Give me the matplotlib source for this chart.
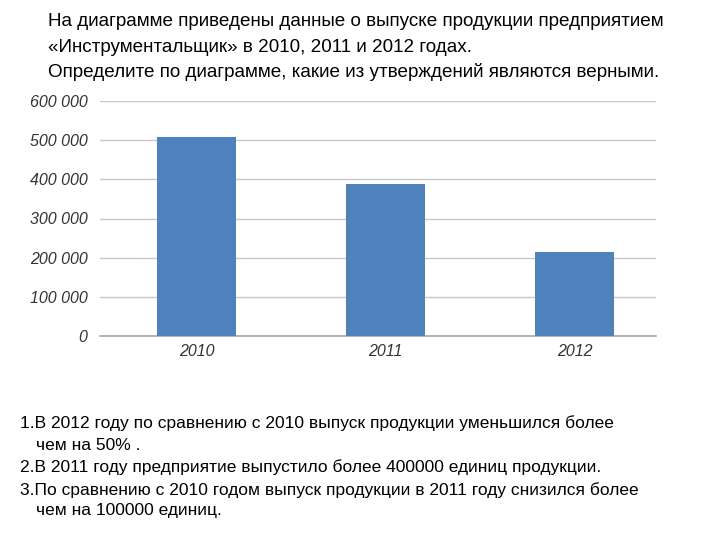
import matplotlib.pyplot as plt
from matplotlib.ticker import FuncFormatter

years = ["2010", "2011", "2012"]
output = [508000, 389000, 214000]
y_ticks = [0, 100000, 200000, 300000, 400000, 500000, 600000]

title_lines = [
    "На диаграмме приведены данные о выпуске продукции предприятием",
    "«Инструментальщик» в 2010, 2011 и 2012 годах.",
    "Определите по диаграмме, какие из утверждений являются верными.",
]
statements = [
    ("1.В 2012 году по сравнению с 2010 выпуск продукции уменьшился более", 0),
    ("чем на 50% .", 1),
    ("2.В 2011 году предприятие выпустило более 400000 единиц продукции.", 0),
    ("3.По сравнению с 2010 годом выпуск продукции в 2011 году снизился более", 0),
    ("чем на 100000 единиц.", 1),
]

plt.rcParams['font.family'] = ['Liberation Sans', 'DejaVu Sans']

fig = plt.figure(figsize=(7.2, 5.4), dpi=100)
ax = fig.add_axes([100 / 720, 204 / 540, 556 / 720, 235 / 540])

ax.bar(range(len(years)), output, width=0.416, color="#4f81bd", zorder=3)
ax.set_xlim(-0.51, 2.43)
ax.set_ylim(0, 600000)
ax.set_yticks(y_ticks)
ax.yaxis.set_major_formatter(FuncFormatter(lambda v, p: "{:,}".format(int(v)).replace(",", " ")))
ax.set_xticks(range(len(years)))
ax.set_xticklabels(years)
ax.grid(axis="y", color="#c8c8c8", linewidth=1, zorder=0)
for s in ["top", "right", "left"]:
    ax.spines[s].set_visible(False)
ax.spines["bottom"].set_color("#a6a6a6")
ax.spines["bottom"].set_linewidth(1.2)
ax.tick_params(length=0, labelsize=11.5, colors="#333333")
ax.tick_params(axis="y", pad=9)
ax.tick_params(axis="x", pad=6)
for lbl in ax.get_xticklabels() + ax.get_yticklabels():
    lbl.set_style("italic")

for i, line in enumerate(title_lines):
    fig.text(48 / 720, 1 - (22 + 25 * i) / 540, line, fontsize=13.6, va="center", ha="left")

y_pos = [423, 445, 467, 490, 511]
for (line, indent), y in zip(statements, y_pos):
    x = 36 if indent else 20
    fig.text(x / 720, 1 - y / 540, line, fontsize=12.5, va="center", ha="left")

fig.savefig("out.png", dpi=100)
